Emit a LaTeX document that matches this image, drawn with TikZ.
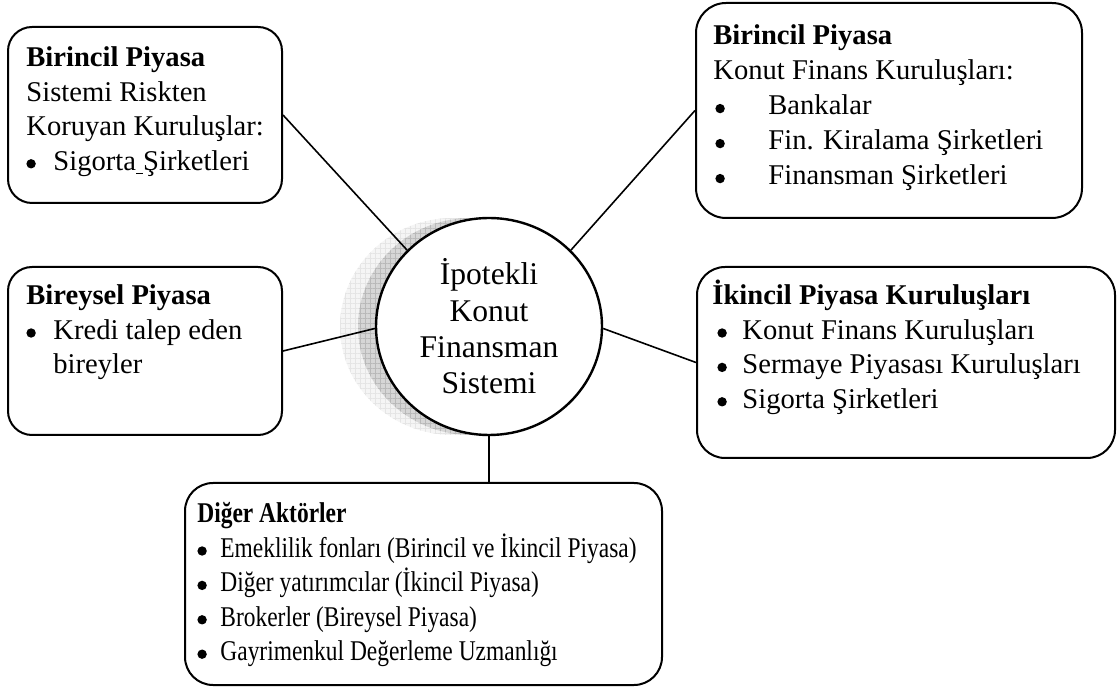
\documentclass[tikz,border=0pt]{standalone}
\usepackage{fontspec}
\setmainfont{Liberation Serif}
% horizontally condensed cut for the bottom box
\newfontfamily\narrowfont{Liberation Serif}[FakeStretch=0.82]
\usetikzlibrary{shapes.geometric,patterns.meta}
% round list bullet followed by a hanging indent of the given width
\newcommand{\bdot}{\tikz[baseline=0pt,x=1pt,y=1pt]\fill (2.3,3.2) circle[radius=2.35];}
\newcommand{\blt}[1]{\makebox[#1][l]{\bdot}}
\begin{document}
\begin{tikzpicture}[x=0.5pt,y=-0.5pt,
  box/.style={draw,line width=1pt,rounded corners=#1,inner sep=0pt,fill=white},
  txt/.style={anchor=base west,inner sep=0pt,font=\fontsize{14.3pt}{17.2pt}\selectfont},
  lnk/.style={line width=0.8pt},
  hub/.style={ellipse,draw,line width=1.2pt,fill=white,minimum width=113pt,
    minimum height=108.5pt,inner sep=0pt,align=center,
    font=\fontsize{15.8pt}{18.15pt}\selectfont},
  shlight/.style={fill=gray!8},
  shdark/.style={fill=gray!32},
  hgrid/.style={pattern={Lines[angle=0,distance=2.5pt,line width=0.3pt]},pattern color=#1},
  vgrid/.style={pattern={Lines[angle=90,distance=2.5pt,line width=0.3pt]},pattern color=#1}]
\useasboundingbox (0,0) rectangle (1117,688);

% soft layered shadow behind the central ellipse
\fill[shlight] (453,326.5) ellipse [x radius=56.5pt, y radius=54.25pt];
\path[hgrid=gray!20] (453,326.5) ellipse [x radius=56.5pt, y radius=54.25pt];
\path[vgrid=gray!20] (453,326.5) ellipse [x radius=56.5pt, y radius=54.25pt];
\fill[shdark] (471,326.5) ellipse [x radius=56.5pt, y radius=54.25pt];
\path[hgrid=gray!55] (471,326.5) ellipse [x radius=56.5pt, y radius=54.25pt];
\path[vgrid=gray!55] (471,326.5) ellipse [x radius=56.5pt, y radius=54.25pt];

% central system
\node[hub] (c) at (489,326.5) {İpotekli\\Konut\\Finansman\\Sistemi};

% surrounding actor boxes
\node[box=12pt,minimum width=137pt,minimum height=88pt] (tl) at (145,115) {};
\node[box=15pt,minimum width=193pt,minimum height=107.5pt] (tr) at (889,110.5) {};
\node[box=12pt,minimum width=137pt,minimum height=84pt] (ml) at (145,351) {};
\node[box=14pt,minimum width=209pt,minimum height=95.5pt] (mr) at (906,362.5) {};
\node[box=14pt,minimum width=238.5pt,minimum height=101pt] (bt) at (423.5,584) {};

% box contents
\node[txt] (tlt) at (26,67) {\parbox[t]{128pt}{\raggedright
  \textbf{Birincil Piyasa}\\
  Sistemi Riskten\\
  Koruyan Kuruluşlar:\\
  \blt{13.5pt}Sigorta\underline{\ }Şirketleri}};
\node[txt,font=\fontsize{14.3pt}{17.5pt}\selectfont] (trt) at (713,45) {\parbox[t]{180pt}{\raggedright
  \textbf{Birincil Piyasa}\\
  Konut Finans Kuruluşları:\\
  \hspace*{1pt}\blt{26.5pt}Bankalar\\
  \hspace*{1pt}\blt{26.5pt}Fin. Kiralama Şirketleri\\
  \hspace*{1pt}\blt{26.5pt}Finansman Şirketleri}};
\node[txt] (mlt) at (26,305) {\parbox[t]{128pt}{\raggedright
  \textbf{Bireysel Piyasa}\\
  \blt{13.5pt}Kredi talep eden\\
  \hspace*{13.5pt}bireyler}};
\node[txt] (mrt) at (712,305) {\parbox[t]{200pt}{\raggedright
  \textbf{İkincil Piyasa Kuruluşları}\\
  \hspace*{2.5pt}\blt{12.5pt}Konut Finans Kuruluşları\\
  \hspace*{2.5pt}\blt{12.5pt}Sermaye Piyasası Kuruluşları\\
  \hspace*{2.5pt}\blt{12.5pt}Sigorta Şirketleri}};
\node[txt,font=\narrowfont\fontsize{14.3pt}{17.2pt}\selectfont] (btt) at (197,523) {\parbox[t]{230pt}{\raggedright
  \textbf{Diğer Aktörler}\\
  \blt{11.5pt}Emeklilik fonları (Birincil ve İkincil Piyasa)\\
  \blt{11.5pt}Diğer yatırımcılar (İkincil Piyasa)\\
  \blt{11.5pt}Brokerler (Bireysel Piyasa)\\
  \blt{11.5pt}Gayrimenkul Değerleme Uzmanlığı}};

% connectors from the centre to each box
\draw[lnk] (tl.east) -- (c.137);
\draw[lnk] (tr.west) -- (c.43);
\draw[lnk] (ml.east) -- (c.181);
\draw[lnk] (mr.west) -- (c.-1);
\draw[lnk] (c.south) -- (c.south |- bt.north);
\end{tikzpicture}
\end{document}
